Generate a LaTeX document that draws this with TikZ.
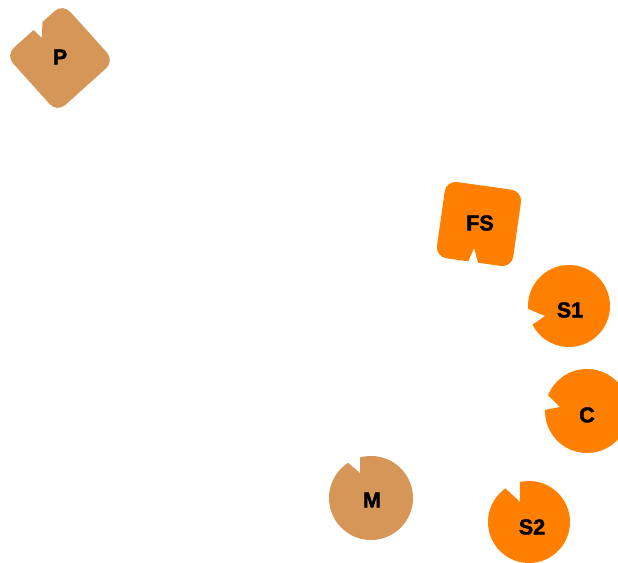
\documentclass[tikz,border=0pt]{standalone}
\usepackage{fontspec}
\setmainfont{Liberation Sans}
\newfontfamily\lblfont{Liberation Sans Bold}[RawFeature={embolden=2}]
\definecolor{orng}{HTML}{FF8000}
\definecolor{tanc}{HTML}{D59657}
\begin{document}
\begin{tikzpicture}[x=1pt,y=1pt,
  lbl/.style={font=\lblfont\fontsize{21.5}{24}\selectfont, text=black, inner sep=0pt}]
\useasboundingbox (0,0) rectangle (618,562);
% P : rounded square with a notch
\begin{scope}[shift={(60,504)}, rotate=42]
\fill[tanc] (-1,38.5) -- (0,27) -- (11,38.5) -- (27.5,38.5)
  arc[start angle=90,end angle=0,radius=11] -- (38.5,-27.5)
  arc[start angle=0,end angle=-90,radius=11] -- (-27.5,-38.5)
  arc[start angle=-90,end angle=-180,radius=11] -- (-38.5,27.5)
  arc[start angle=180,end angle=90,radius=11] -- cycle;
\end{scope}
% FS : rounded square with a slot
\begin{scope}[shift={(479,338)}, rotate=-8]
\fill[orng] (-27.5,38.5) -- (27.5,38.5)
  arc[start angle=90,end angle=0,radius=11] -- (38.5,-27.5)
  arc[start angle=0,end angle=-90,radius=11] -- (4.5,-38.5) -- (-1.5,-24.5) -- (-5.5,-38.5) -- (-27.5,-38.5)
  arc[start angle=-90,end angle=-180,radius=11] -- (-38.5,27.5)
  arc[start angle=180,end angle=90,radius=11] -- cycle;
\end{scope}
% S1
\begin{scope}[shift={(569,256)}]
\fill[orng] (-24,-10) -- (207:41) arc[start angle=207,end angle=544,radius=41] -- cycle;
\end{scope}
% C
\begin{scope}[shift={(587,151)}]
\fill[orng] (-27,4) -- (178.5:42) arc[start angle=178.5,end angle=518,radius=42] -- cycle;
\end{scope}
% M
\begin{scope}[shift={(371,64)}]
\fill[tanc] (-11,25) -- (123:42) arc[start angle=123,end angle=465,radius=42] -- cycle;
\end{scope}
% S2
\begin{scope}[shift={(529,40)}]
\fill[orng] (-9,20) -- (125:41) arc[start angle=125,end angle=463,radius=41] -- cycle;
\end{scope}
% labels
\node[lbl] (p) at (60,505) {P};
\node[lbl] (fs) at (480,339) {FS};
\node[lbl] (s1) at (570,252) {S1};
\node[lbl] (c) at (587,147) {C};
\node[lbl] (m) at (372,62) {M};
\node[lbl] (s2) at (532,35) {S2};
\end{tikzpicture}
\end{document}
